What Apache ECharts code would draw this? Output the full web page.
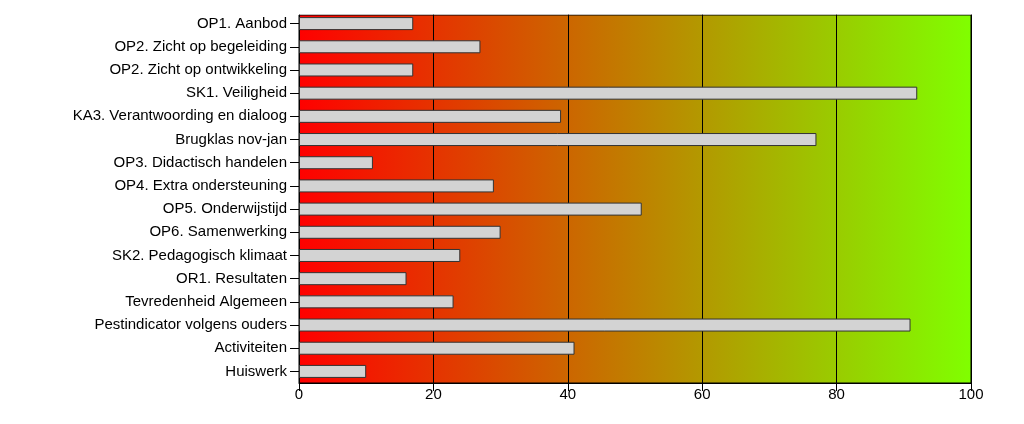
<!DOCTYPE html>
<html>
<head>
<meta charset="utf-8">
<script src="https://cdn.jsdelivr.net/npm/echarts@6/dist/echarts.min.js"></script>
<style>
html,body{margin:0;padding:0;background:#fff;}
#chart{width:1024px;height:424px;}
</style>
</head>
<body>
<div id="chart"></div>
<script>
const categories = [
  "OP1. Aanbod",
  "OP2. Zicht op begeleiding",
  "OP2. Zicht op ontwikkeling",
  "SK1. Veiligheid",
  "KA3. Verantwoording en dialoog",
  "Brugklas nov-jan",
  "OP3. Didactisch handelen",
  "OP4. Extra ondersteuning",
  "OP5. Onderwijstijd",
  "OP6. Samenwerking",
  "SK2. Pedagogisch klimaat",
  "OR1. Resultaten",
  "Tevredenheid Algemeen",
  "Pestindicator volgens ouders",
  "Activiteiten",
  "Huiswerk"
];
const values = [17, 27, 17, 92, 39, 77, 11, 29, 51, 30, 24, 16, 23, 91, 41, 10];
const xTicks = [0, 20, 40, 60, 80, 100];

const chart = echarts.init(document.getElementById('chart'));
const font = "'Liberation Sans', Arial, sans-serif";
chart.setOption({
  animation: false,
  backgroundColor: '#ffffff',
  graphic: [{
    type: 'rect',
    z: -10,
    silent: true,
    shape: { x: 299, y: 15, width: 672, height: 368 },
    style: {
      fill: new echarts.graphic.LinearGradient(0, 0, 1, 0, [
        { offset: 0, color: '#ff0000' },
        { offset: 1, color: '#80ff00' }
      ]),
      stroke: '#000',
      lineWidth: 1
    }
  }, {
    type: 'rect',
    z: 100,
    silent: true,
    shape: { x: 290, y: 8, width: 690, height: 6.5 },
    style: { fill: '#ffffff' }
  }],
  grid: { left: 299, right: 53, top: 12, bottom: 41, containLabel: false },
  xAxis: {
    type: 'value',
    min: xTicks[0],
    max: xTicks[xTicks.length - 1],
    interval: 20,
    axisLine: { show: true, lineStyle: { color: '#000', width: 1 } },
    axisTick: { show: true, length: 8, lineStyle: { color: '#000' } },
    axisLabel: { color: '#000', fontSize: 15, fontFamily: font, margin: 4 },
    splitLine: { show: true, lineStyle: { color: '#000', width: 1 } }
  },
  yAxis: {
    type: 'category',
    inverse: true,
    data: categories,
    axisLine: { show: true, lineStyle: { color: '#000', width: 1 } },
    axisTick: { show: true, alignWithLabel: true, length: 9, lineStyle: { color: '#000' } },
    axisLabel: { color: '#000', fontSize: 15, fontFamily: font, margin: 12 }
  },
  series: [{
    type: 'bar',
    data: values,
    barWidth: 13,
    itemStyle: { color: '#d3d3d3', borderColor: '#333', borderWidth: 1 }
  }]
});
</script>
</body>
</html>
